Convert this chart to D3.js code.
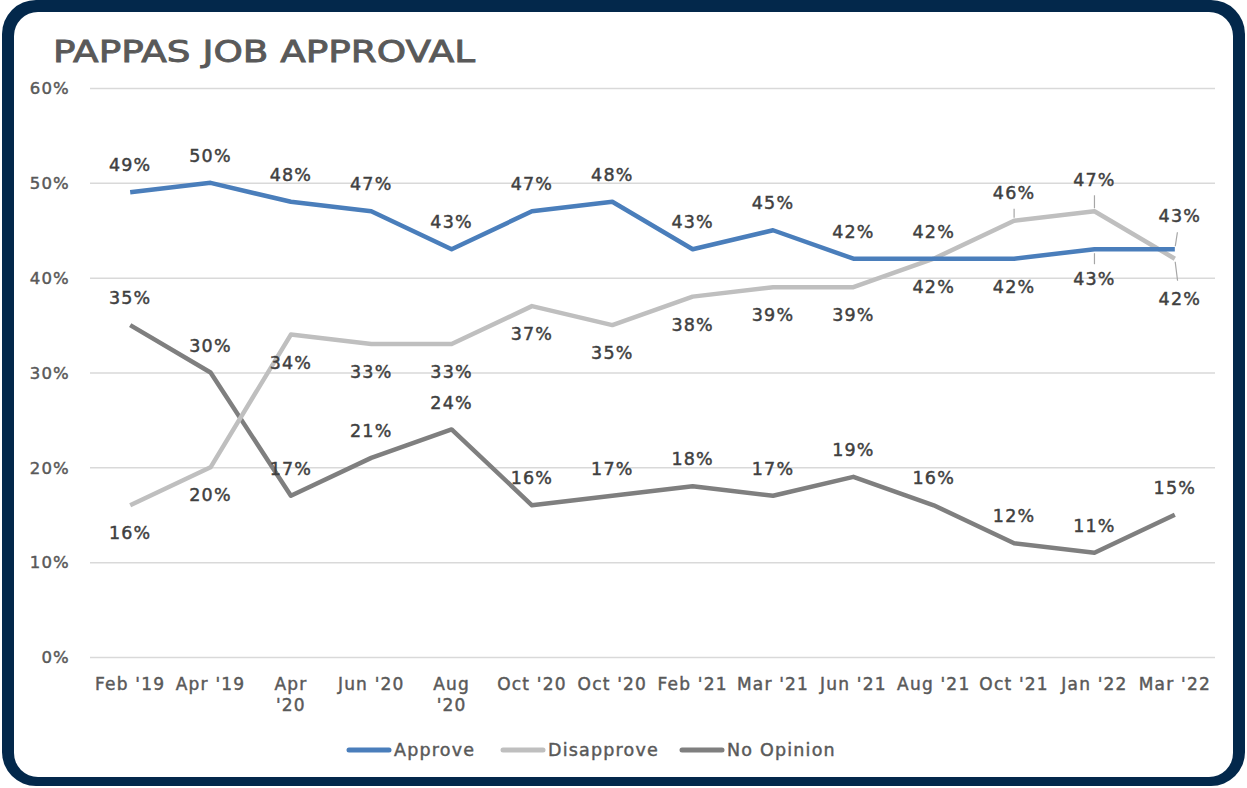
<!DOCTYPE html>
<html><head><meta charset="utf-8">
<script src="https://cdn.jsdelivr.net/npm/d3@7/dist/d3.min.js"></script>
<style>
html,body{margin:0;padding:0;background:#fff;}
svg{display:block;}
text{font-family:"DejaVu Sans",sans-serif;}
</style></head>
<body>
<script>
const categories = ["Feb '19","Apr '19","Apr '20","Jun '20","Aug '20","Oct '20","Oct '20","Feb '21","Mar '21","Jun '21","Aug '21","Oct '21","Jan '22","Mar '22"];
const tickLabels = [["Feb '19"],["Apr '19"],["Apr","'20"],["Jun '20"],["Aug","'20"],["Oct '20"],["Oct '20"],["Feb '21"],["Mar '21"],["Jun '21"],["Aug '21"],["Oct '21"],["Jan '22"],["Mar '22"]];
const approve    = [49,50,48,47,43,47,48,43,45,42,42,42,43,43];
const disapprove = [16,20,34,33,33,37,35,38,39,39,42,46,47,42];
const noOpinion  = [35,30,17,21,24,16,17,18,17,19,16,12,11,15];
const yTicks = [0,10,20,30,40,50,60];

// label placement (t = above, b = below), with optional leader lines
const approvePos    = ["t","t","t","t","t","t","t","t","t","t","b","b","b","t"];
const disapprovePos = ["b","b","b","b","b","b","b","b","b","b","t","t","t","b"];
const noOpinionPos  = ["t","t","t","t","t","t","t","t","t","t","t","t","t","t"];
const leaders = { // key "series-index": [dx, dy, leaderStart, leaderEnd]
  "0-12":[0,30,4,15], "0-13":[5,-33,3,17],
  "1-11":[0,-28,3,12], "1-12":[0,-31,3,16], "1-13":[5,40,3,22]
};

const W = 1247, H = 788;
const svg = d3.select("body").append("svg").attr("width",W).attr("height",H);

// frame
svg.append("rect").attr("x",2).attr("y",0).attr("width",1243).attr("height",786).attr("rx",34).attr("fill","#03284B");
svg.append("rect").attr("x",14).attr("y",12).attr("width",1219).attr("height",765).attr("rx",24).attr("fill","#fff");

svg.append("text").attr("x",53).attr("y",62).text("PAPPAS JOB APPROVAL")
  .attr("fill","#595959").attr("stroke","#595959").attr("stroke-width",0.9)
  .attr("font-size",31)
  .attr("textLength",422).attr("lengthAdjust","spacingAndGlyphs");

const x = d3.scaleBand().domain(d3.range(categories.length)).range([90,1215]);
const y = d3.scaleLinear().domain([0,60]).range([657,88]);
const cx = i => x(i) + x.bandwidth()/2;

const med = sel => sel.attr("stroke-width",0.45).attr("letter-spacing",1.2);

// grid
const yAxis = d3.axisLeft(y).tickValues(yTicks).tickSize(-(1215-90)).tickFormat(d=>d+"%");
const gy = svg.append("g").attr("transform","translate(90,0)").call(yAxis);
gy.select(".domain").remove();
gy.selectAll(".tick line").attr("stroke","#D9D9D9").attr("stroke-width",1.5);
gy.selectAll(".tick text").attr("x",-20).attr("fill","#595959").attr("stroke","#595959")
  .attr("font-size",16.5).attr("dy","0.35em").call(med);

// x axis labels
const xAxis = d3.axisBottom(x).tickSize(0).tickFormat("");
const gx = svg.append("g").attr("transform","translate(0,657)").call(xAxis);
gx.select(".domain").remove();
gx.selectAll(".tick").each(function(d){
  const t = d3.select(this).append("text").attr("fill","#595959").attr("stroke","#595959")
    .attr("font-size",17).attr("text-anchor","middle").call(med);
  tickLabels[d].forEach((s,k)=>{
    t.append("tspan").attr("x",0).attr("y",33+k*21).text(s);
  });
});

const series = [
  {name:"Approve", vals:approve, pos:approvePos, color:"#4A7EBB"},
  {name:"Disapprove", vals:disapprove, pos:disapprovePos, color:"#BFBFBF"},
  {name:"No Opinion", vals:noOpinion, pos:noOpinionPos, color:"#7F7F7F"}
];
const line = d3.line().x((d,i)=>cx(i)).y(d=>y(d));

// draw in order: no opinion, disapprove, approve
[2,1,0].forEach(si=>{
  const s = series[si];
  svg.append("path").datum(s.vals).attr("d",line).attr("fill","none")
    .attr("stroke",s.color).attr("stroke-width",4.5).attr("stroke-linejoin","round");
});

series.forEach((s,si)=>{
  s.vals.forEach((v,i)=>{
    const px = cx(i), py = y(v);
    const key = si+"-"+i;
    let dx=0, dy = s.pos[i]==="t" ? -27 : 28;
    if(leaders[key]){
      const L = leaders[key];
      dx=L[0]; dy=L[1];
      const f1 = L[2]/Math.abs(dy), f2 = L[3]/Math.abs(dy);
      svg.append("line")
        .attr("x1",px+dx*f1).attr("y1",py+dy*f1)
        .attr("x2",px+dx*f2).attr("y2",py+dy*f2)
        .attr("stroke","#A6A6A6").attr("stroke-width",1.2);
    }
    svg.append("text").attr("x",px+dx).attr("y",py+dy).attr("dy","0.35em")
      .attr("text-anchor","middle").attr("fill","#404040").attr("stroke","#404040")
      .attr("font-size",17.5).call(med)
      .text(v+"%");
  });
});

// legend
const legX = [347,501,680];
series.forEach((s,si)=>{
  const g = svg.append("g").attr("transform",`translate(${legX[si]},750)`);
  g.append("line").attr("x1",2).attr("x2",42).attr("y1",0).attr("y2",0)
    .attr("stroke",s.color).attr("stroke-width",5).attr("stroke-linecap","round");
  g.append("text").attr("x",47).attr("y",0).attr("dy","0.35em").attr("fill","#595959")
    .attr("stroke","#595959").attr("font-size",17.5).call(med).text(s.name);
});
</script>
</body></html>
